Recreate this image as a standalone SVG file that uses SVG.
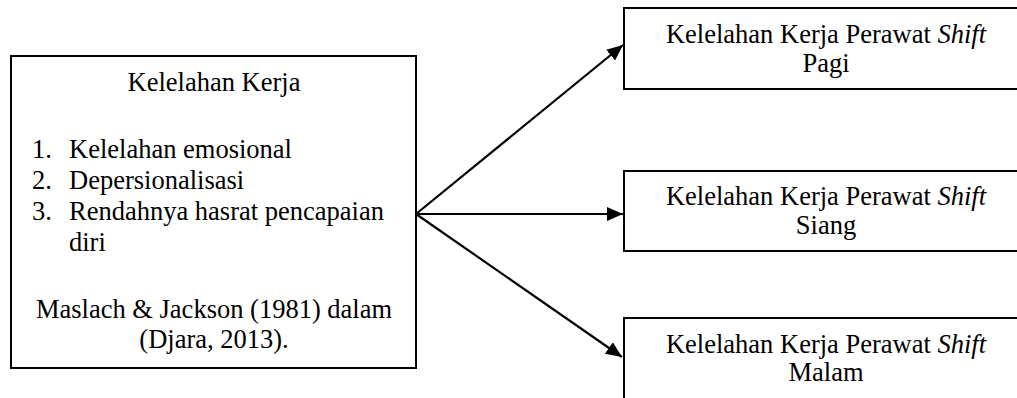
<svg xmlns="http://www.w3.org/2000/svg" width="1017" height="398" viewBox="0 0 1017 398">
<style>
.box{fill:#fff;stroke:#000;stroke-width:2}
.t{font-family:"Liberation Serif","Times New Roman",serif;font-size:26.5px;fill:#000}
.c{text-anchor:middle}
.con{stroke:#000;stroke-width:2.2;fill:none}
</style>
<defs>
<marker id="ah" markerUnits="userSpaceOnUse" markerWidth="20" markerHeight="20" viewBox="0 0 20 20" refX="16" refY="10" orient="auto">
<path d="M0,3 L16,10 L0,17 Z" fill="#000"/>
</marker>
</defs>
<rect width="1017" height="398" fill="#fff"/>
<g id="kelelahan-kerja">
<rect class="box" x="11" y="56" width="405" height="312"/>
<text class="t c" x="214" y="90.5">Kelelahan Kerja</text>
<text class="t" x="32" y="158">1.</text>
<text class="t" x="69" y="158">Kelelahan emosional</text>
<text class="t" x="32" y="189">2.</text>
<text class="t" x="69" y="189">Depersionalisasi</text>
<text class="t" x="32" y="220">3.</text>
<text class="t" x="69" y="220">Rendahnya hasrat pencapaian</text>
<text class="t" x="69" y="251">diri</text>
<text class="t c" x="214" y="318">Maslach &amp; Jackson (1981) dalam</text>
<text class="t c" x="214" y="348">(Djara, 2013).</text>
</g>
<g id="shift-pagi">
<rect class="box" x="624" y="8" width="410" height="81"/>
<text class="t c" x="826" y="43.3">Kelelahan Kerja Perawat <tspan font-style="italic">Shift</tspan></text>
<text class="t c" x="826" y="72.3">Pagi</text>
</g>
<g id="shift-siang">
<rect class="box" x="624" y="171" width="410" height="80"/>
<text class="t c" x="826" y="205">Kelelahan Kerja Perawat <tspan font-style="italic">Shift</tspan></text>
<text class="t c" x="826" y="234">Siang</text>
</g>
<g id="shift-malam">
<rect class="box" x="624" y="318" width="410" height="100"/>
<text class="t c" x="826" y="353">Kelelahan Kerja Perawat <tspan font-style="italic">Shift</tspan></text>
<text class="t c" x="826" y="381">Malam</text>
</g>
<g id="connectors">
<line class="con" x1="416" y1="214" x2="623" y2="45" marker-end="url(#ah)"/>
<line class="con" x1="416" y1="214" x2="623" y2="214" marker-end="url(#ah)"/>
<line class="con" x1="416" y1="214" x2="622" y2="357" marker-end="url(#ah)"/>
</g>
</svg>
